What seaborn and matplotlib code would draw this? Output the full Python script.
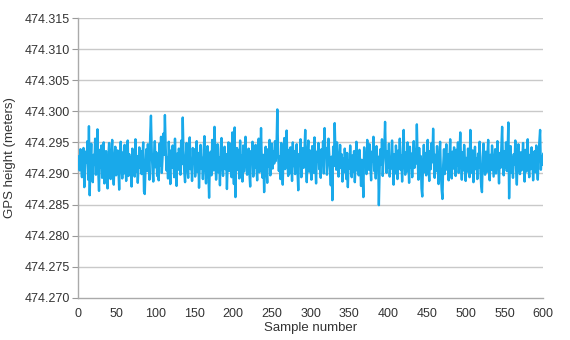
import numpy as np
import pandas as pd
import matplotlib
matplotlib.use("Agg")
import matplotlib.pyplot as plt
import seaborn as sns
from matplotlib.ticker import FormatStrFormatter

# Heights, in mm above 474.280 m, samples 1..600
base_height = 474.280
h_001_100 = [12.8, 10.5, 13.9, 11.2, 9.4, 12.6, 14.1, 7.8, 10.9, 13.5,
             11.7, 15.2, 9.0, 17.6, 6.5, 12.3, 14.8, 10.1, 8.6, 13.0,
             11.4, 15.6, 9.8, 12.9, 17.1, 10.4, 7.2, 13.8, 11.0, 14.5,
             9.3, 12.1, 15.0, 8.4, 11.8, 13.6, 10.2, 7.6, 12.7, 14.9,
             11.3, 9.1, 13.2, 15.4, 10.6, 8.2, 12.4, 14.3, 9.7, 11.9,
             13.7, 10.8, 7.4, 12.2, 15.1, 11.5, 9.2, 13.4, 10.0, 14.6,
             12.0, 8.8, 11.6, 15.3, 9.6, 13.1, 10.7, 12.5, 7.9, 14.0,
             11.1, 13.3, 9.5, 15.5, 10.3, 12.8, 8.5, 11.4, 14.2, 10.9,
             13.6, 9.9, 12.3, 15.0, 7.1, 6.7, 11.2, 13.9, 10.4, 14.7,
             12.1, 9.0, 16.2, 19.3, 13.5, 10.6, 8.7, 12.9, 15.2, 11.0]
h_101_200 = [13.4, 9.6, 12.2, 8.9, 14.8, 11.3, 15.9, 10.1, 12.7, 16.4,
             13.0, 19.4, 14.2, 10.5, 12.6, 9.2, 15.1, 11.8, 8.3, 13.7,
             10.9, 14.5, 12.0, 9.4, 15.6, 11.1, 8.0, 13.2, 10.6, 14.0,
             12.4, 9.8, 15.3, 11.5, 19.0, 13.1, 10.2, 8.6, 12.8, 14.9,
             11.0, 9.3, 13.6, 15.8, 10.7, 12.3, 8.8, 14.1, 11.6, 13.9,
             9.5, 12.0, 15.2, 10.3, 13.3, 7.7, 11.9, 14.6, 10.8, 12.5,
             9.1, 13.8, 16.0, 11.2, 8.4, 12.9, 14.4, 10.0, 6.1, 11.7,
             13.5, 9.7, 15.4, 12.1, 10.5, 17.5, 13.0, 9.0, 11.4, 14.7,
             10.2, 12.6, 8.1, 13.9, 15.7, 11.3, 9.6, 12.8, 14.3, 10.7,
             13.1, 7.5, 11.8, 15.0, 10.4, 12.2, 14.8, 9.4, 16.6, 11.6]
h_201_300 = [8.3, 17.4, 6.2, 12.5, 14.1, 10.6, 13.7, 9.2, 15.3, 11.0,
             12.9, 8.7, 14.5, 10.3, 13.2, 15.9, 11.5, 9.8, 12.4, 14.0,
             10.1, 7.9, 13.6, 11.7, 15.1, 9.5, 12.8, 10.9, 14.6, 11.3,
             8.9, 13.4, 15.6, 10.2, 12.1, 17.3, 11.8, 9.3, 13.0, 7.0,
             12.6, 14.3, 10.5, 8.5, 13.9, 11.1, 15.4, 9.7, 12.3, 14.8,
             10.8, 13.5, 11.6, 15.2, 12.0, 14.4, 20.3, 13.1, 10.4, 12.7,
             9.1, 14.9, 11.4, 8.2, 13.3, 15.7, 10.7, 12.2, 16.9, 11.9,
             9.6, 13.8, 10.0, 14.2, 12.5, 8.8, 15.0, 11.2, 13.6, 9.9,
             12.8, 14.7, 10.6, 7.3, 13.1, 11.5, 15.5, 9.4, 12.0, 14.1,
             10.9, 13.4, 17.0, 11.7, 8.6, 12.9, 15.3, 10.3, 13.7, 11.1]
h_301_400 = [9.0, 14.4, 12.3, 10.1, 15.8, 11.6, 8.4, 13.5, 12.0, 14.9,
             10.7, 12.6, 9.3, 13.9, 11.4, 15.2, 10.0, 17.3, 12.8, 14.1,
             9.8, 11.9, 15.6, 13.0, 10.4, 8.1, 12.7, 5.7, 14.3, 11.2,
             18.1, 13.4, 10.6, 15.0, 12.2, 9.5, 11.8, 14.6, 10.9, 13.1,
             8.7, 12.4, 10.2, 14.0, 11.5, 9.1, 13.3, 7.8, 12.1, 10.8,
             14.5, 11.0, 9.4, 12.9, 10.3, 13.6, 8.6, 11.7, 15.1, 10.5,
             12.6, 9.7, 13.8, 11.3, 8.0, 12.2, 10.0, 6.2, 14.2, 11.6,
             13.0, 9.9, 15.4, 12.5, 10.6, 14.7, 11.1, 8.9, 13.5, 12.0,
             15.9, 10.4, 13.2, 9.2, 14.4, 11.8, 12.7, 4.9, 10.7, 13.9,
             11.4, 15.5, 9.6, 12.8, 14.0, 18.3, 12.3, 10.1, 13.6, 11.0]
h_401_500 = [14.8, 9.5, 12.4, 10.8, 15.3, 11.7, 8.2, 13.1, 10.0, 14.5,
             12.2, 9.1, 13.7, 11.3, 15.6, 10.6, 12.9, 8.7, 14.0, 17.0,
             11.5, 9.8, 13.4, 10.3, 15.0, 12.1, 8.5, 14.3, 11.0, 13.2,
             9.4, 12.6, 15.2, 10.9, 13.8, 11.6, 17.9, 12.4, 9.0, 14.1,
             10.5, 12.8, 7.6, 6.3, 11.9, 14.6, 10.2, 13.3, 9.7, 12.0,
             15.4, 11.2, 8.8, 13.6, 10.7, 14.9, 11.8, 17.2, 12.5, 9.3,
             13.0, 10.4, 14.4, 11.1, 8.3, 12.7, 15.1, 10.0, 7.4, 5.9,
             11.4, 13.9, 9.9, 12.3, 14.7, 10.6, 13.1, 8.9, 12.0, 15.5,
             11.0, 9.2, 13.5, 10.8, 14.2, 12.6, 9.6, 13.8, 11.3, 15.0,
             10.1, 12.9, 16.6, 11.7, 9.0, 13.4, 10.5, 14.6, 12.2, 8.8]
h_501_600 = [12.5, 10.3, 14.0, 11.6, 9.4, 17.0, 12.8, 10.1, 13.7, 8.6,
             11.9, 14.3, 10.7, 12.4, 9.1, 13.2, 11.0, 15.1, 10.5, 8.0,
             7.0, 12.6, 14.8, 11.3, 9.8, 13.5, 10.2, 12.9, 15.4, 11.1,
             8.9, 13.0, 10.6, 14.5, 12.1, 9.5, 11.7, 13.9, 10.0, 12.7,
             15.2, 11.4, 8.4, 13.3, 10.9, 14.1, 17.5, 12.3, 9.7, 13.6,
             11.0, 15.0, 10.4, 12.8, 18.2, 6.0, 11.8, 14.4, 10.1, 12.5,
             9.3, 13.1, 11.5, 15.3, 10.8, 8.2, 12.9, 14.7, 11.2, 9.9,
             13.4, 10.5, 12.2, 14.9, 11.7, 8.7, 13.8, 10.3, 12.6, 15.5,
             11.1, 9.4, 13.0, 10.7, 14.2, 12.4, 8.9, 11.9, 13.6, 10.2,
             14.5, 11.3, 9.0, 12.7, 15.1, 17.0, 10.6, 12.8, 11.4, 13.2]

y_ticks = [474.270, 474.275, 474.280, 474.285, 474.290, 474.295,
           474.300, 474.305, 474.310, 474.315]
x_ticks = [0, 50, 100, 150, 200, 250, 300, 350, 400, 450, 500, 550, 600]

mm = h_001_100 + h_101_200 + h_201_300 + h_301_400 + h_401_500 + h_501_600
df = pd.DataFrame({"sample": np.arange(1, len(mm) + 1),
                   "height": base_height + np.array(mm) / 1000.0})

sns.set_theme(style="white")
plt.rcParams["font.family"] = ["Liberation Sans", "DejaVu Sans"]

fig = plt.figure(figsize=(5.7, 3.4), dpi=100)
ax = fig.add_axes([0.137, 0.124, 0.816, 0.823])

for yt in y_ticks[1:]:
    ax.axhline(yt, color="#c9c9c9", linewidth=1.0, zorder=0)

sns.lineplot(data=df, x="sample", y="height", ax=ax, color="#19a9ea",
             linewidth=1.7, zorder=3)

ax.set_xlim(0, 600)
ax.set_ylim(474.270, 474.315)
ax.set_yticks(y_ticks)
ax.set_xticks(x_ticks)
ax.yaxis.set_major_formatter(FormatStrFormatter("%.3f"))
ax.set_xlabel("Sample number", fontsize=9.5, color="#333333", labelpad=2)
ax.set_ylabel("GPS height (meters)", fontsize=9.5, color="#333333", labelpad=6)
ax.tick_params(axis="y", which="major", direction="out", length=4, width=0.8,
               color="#999999", labelsize=9, labelcolor="#333333", pad=2,
               left=True)
ax.tick_params(axis="x", which="major", length=0, labelsize=9,
               labelcolor="#333333", pad=7)
for s in ["top", "right"]:
    ax.spines[s].set_visible(False)
for s in ["left", "bottom"]:
    ax.spines[s].set_color("#aaaaaa")
    ax.spines[s].set_linewidth(1.0)

fig.savefig("out.png", dpi=100)
